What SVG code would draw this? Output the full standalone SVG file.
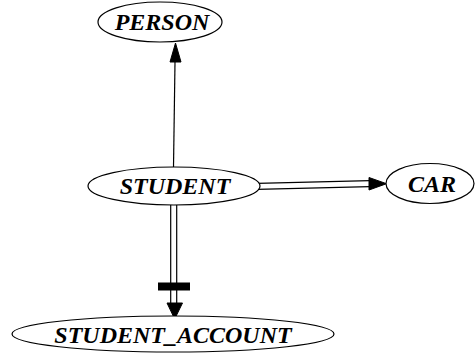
<svg xmlns="http://www.w3.org/2000/svg" width="475" height="353" viewBox="0 0 475 353">
  <style>
    .node ellipse { fill: #ffffff; stroke: #000000; stroke-width: 1.2; }
    .node text { font-family: "Liberation Serif", "Times New Roman", serif; font-weight: bold; font-style: italic; font-size: 24px; text-anchor: middle; fill: #000000; }
    .edge line { stroke: #000000; stroke-width: 1.2; fill: none; }
    .edge polygon, .edge rect { fill: #000000; stroke: #000000; stroke-width: 1; }
  </style>
  <rect x="0" y="0" width="475" height="353" fill="#ffffff"/>

  <g id="connectors">
    <!-- STUDENT -> PERSON -->
    <g class="edge" id="student_person">
      <line x1="173.5" y1="167" x2="175" y2="62"/>
      <polygon points="170,62 181,62 175.5,43"/>
    </g>
    <!-- STUDENT => CAR (double line) -->
    <g class="edge" id="student_car">
      <line x1="257" y1="183.3" x2="370" y2="180.7"/>
      <line x1="257" y1="189.3" x2="370" y2="186.7"/>
      <polygon points="369,177.5 369,190 386.5,183.7"/>
    </g>
    <!-- STUDENT => STUDENT_ACCOUNT (double line with bar) -->
    <g class="edge" id="student_account">
      <line x1="170.7" y1="205" x2="170.7" y2="303"/>
      <line x1="176.7" y1="205" x2="176.7" y2="303"/>
      <rect x="158.5" y="283" width="31" height="7"/>
      <polygon points="167,303 182.5,303 174.7,319"/>
    </g>
  </g>

  <g class="node" id="PERSON">
    <ellipse cx="160" cy="22" rx="62" ry="20"/>
    <text x="162" y="30">PERSON</text>
  </g>
  <g class="node" id="STUDENT">
    <ellipse cx="174" cy="186" rx="86" ry="19"/>
    <text x="175" y="194">STUDENT</text>
  </g>
  <g class="node" id="CAR">
    <ellipse cx="430" cy="183.5" rx="44" ry="20"/>
    <text x="432" y="192">CAR</text>
  </g>
  <g class="node" id="STUDENT_ACCOUNT">
    <ellipse cx="173" cy="334" rx="161" ry="18"/>
    <text x="173" y="343">STUDENT_ACCOUNT</text>
  </g>
</svg>
